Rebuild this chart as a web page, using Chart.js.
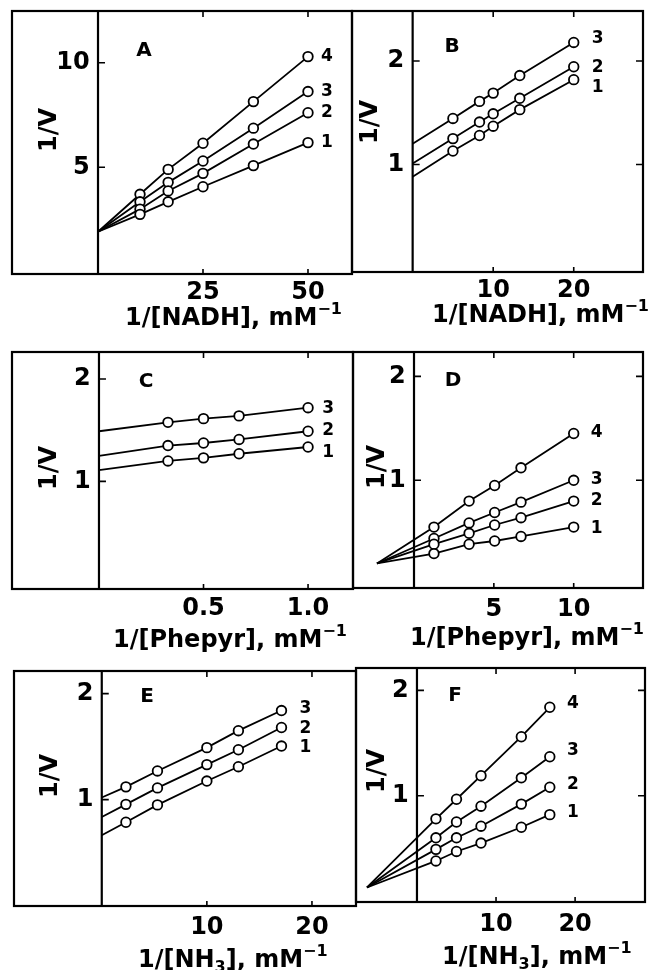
<!DOCTYPE html>
<html>
<head>
<meta charset="utf-8">
<script src="https://cdn.jsdelivr.net/npm/chart.js@4.4.0/dist/chart.umd.min.js"></script>
<style>
  body { margin: 0; background: #fff; width: 650px; height: 970px; position: relative; overflow: hidden; }
  canvas { position: absolute; }
</style>
</head>
<body>
<canvas id="cA"></canvas>
<canvas id="cB"></canvas>
<canvas id="cC"></canvas>
<canvas id="cD"></canvas>
<canvas id="cE"></canvas>
<canvas id="cF"></canvas>
<script>
// ---- data ----
// A: 1/[NADH]
var xA = [0, 10, 16.7, 25, 37, 50];
var yA1 = [1.92, 2.75, 3.35, 4.07, 5.08, 6.18];
var yA2 = [1.92, 3.0, 3.87, 4.71, 6.11, 7.61];
var yA3 = [1.92, 3.35, 4.28, 5.3, 6.87, 8.62];
var yA4 = [1.92, 3.71, 4.9, 6.15, 8.14, 10.29];
var xTicksA = [25, 50], xTickLabelsA = ['25', '50'];
var yTicksA = [5, 10], yTickLabelsA = ['5', '10'];

// B: 1/[NADH]
var xB = [0, 5, 8.3, 10, 13.3, 20];
var yB1 = [0.88, 1.13, 1.28, 1.37, 1.53, 1.82];
var yB2 = [1.01, 1.25, 1.41, 1.49, 1.64, 1.945];
var yB3 = [1.2, 1.445, 1.61, 1.69, 1.86, 2.18];
var xTicksB = [10, 20], xTickLabelsB = ['10', '20'];
var yTicksB = [1, 2], yTickLabelsB = ['1', '2'];

// C: 1/[Phepyr]
var xC = [0, 0.33, 0.5, 0.67, 1.0];
var yC1 = [1.11, 1.2, 1.23, 1.27, 1.336];
var yC2 = [1.25, 1.35, 1.375, 1.41, 1.49];
var yC3 = [1.49, 1.577, 1.613, 1.64, 1.72];
var xTicksC = [0.5, 1.0], xTickLabelsC = ['0.5', '1.0'];
var yTicksC = [1, 2], yTickLabelsC = ['1', '2'];

// D: 1/[Phepyr]
var xD = [-2.32, 1.25, 3.45, 5.05, 6.7, 10];
var yD1 = [0.2, 0.295, 0.385, 0.416, 0.46, 0.55];
var yD2 = [0.2, 0.385, 0.49, 0.57, 0.64, 0.8];
var yD3 = [0.2, 0.44, 0.59, 0.69, 0.79, 1.0];
var yD4 = [0.2, 0.55, 0.8, 0.95, 1.12, 1.45];
var xTicksD = [5, 10], xTickLabelsD = ['5', '10'];
var yTicksD = [1, 2], yTickLabelsD = ['1', '2'];

// E: 1/[NH3]
var xE = [0, 2.3, 5.3, 10, 13, 17.1];
var yE1 = [0.663, 0.786, 0.95, 1.175, 1.31, 1.505];
var yE2 = [0.835, 0.955, 1.11, 1.33, 1.47, 1.68];
var yE3 = [1.02, 1.12, 1.27, 1.49, 1.65, 1.84];
var xTicksE = [10, 20], xTickLabelsE = ['10', '20'];
var yTicksE = [1, 2], yTickLabelsE = ['1', '2'];

// F: 1/[NH3]
var xF = [-6.32, 2.4, 5, 8.1, 13.2, 16.8];
var yF1 = [0.128, 0.38, 0.47, 0.55, 0.7, 0.82];
var yF2 = [0.128, 0.49, 0.6, 0.71, 0.92, 1.08];
var yF3 = [0.128, 0.6, 0.75, 0.9, 1.17, 1.37];
var yF4 = [0.128, 0.78, 0.966, 1.19, 1.56, 1.84];
var xTicksF = [10, 20], xTickLabelsF = ['10', '20'];
var yTicksF = [1, 2], yTickLabelsF = ['1', '2'];

var seriesNames = ['1', '2', '3', '4'];

// ---- panel layout ----
var FONT = '"DejaVu Sans", "Liberation Sans", sans-serif';
var PAD = 8, AXIS_H = 75;

var panels = [
  { id: 'cA', letter: 'A', box: [12, 11, 352, 274], xr: [-20.48, 60.48], yr: [-0.1, 12.47],
    x: xA, ys: [yA1, yA2, yA3, yA4], xt: xTicksA, xl: xTickLabelsA, yt: yTicksA, yl: yTickLabelsA,
    title: [['1/[NADH], mM', 0], ['\u22121', -1]], titleX: 125, titleDy: 51, tickPad: 4,
    letterAt: [144, 51], vAt: [50, 130], rightTicks: false,
    lab: [[19, 0], [19, 0], [19, 0], [19, 0]] },
  { id: 'cB', letter: 'B', box: [352, 11, 643, 272], xr: [-7.53, 28.6], yr: [-0.04, 2.484],
    x: xB, ys: [yB1, yB2, yB3], xt: xTicksB, xl: xTickLabelsB, yt: yTicksB, yl: yTickLabelsB,
    title: [['1/[NADH], mM', 0], ['\u22121', -1]], titleX: 432, titleDy: 50, tickPad: 4,
    letterAt: [452, 47], vAt: [371, 122], rightTicks: true,
    lab: [[24, 8], [24, 1], [24, -4]] },
  { id: 'cC', letter: 'C', box: [12, 352, 353, 589], xr: [-0.416, 1.215], yr: [-0.051, 2.264],
    x: xC, ys: [yC1, yC2, yC3], xt: xTicksC, xl: xTickLabelsC, yt: yTicksC, yl: yTickLabelsC,
    title: [['1/[Phepyr], mM', 0], ['\u22121', -1]], titleX: 113, titleDy: 58, tickPad: 5,
    letterAt: [146, 382], vAt: [50, 468], rightTicks: false,
    lab: [[20, 6], [20, -1], [20, 1]] },
  { id: 'cD', letter: 'D', box: [353, 352, 643, 588], xr: [-3.82, 14.34], yr: [-0.036, 2.234],
    x: xD, ys: [yD1, yD2, yD3, yD4], xt: xTicksD, xl: xTickLabelsD, yt: yTicksD, yl: yTickLabelsD,
    title: [['1/[Phepyr], mM', 0], ['\u22121', -1]], titleX: 410, titleDy: 57, tickPad: 7,
    letterAt: [453, 381], vAt: [378, 467], rightTicks: true,
    lab: [[23, 2], [23, -1], [23, -1], [23, -1]] },
  { id: 'cE', letter: 'E', box: [14, 671, 356, 906], xr: [-8.35, 24.19], yr: [-0.004, 2.213],
    x: xE, ys: [yE1, yE2, yE3], xt: xTicksE, xl: xTickLabelsE, yt: yTicksE, yl: yTickLabelsE,
    title: [['1/[NH', 0], ['3', 1], ['], mM', 0], ['\u22121', -1]], titleX: 138, titleDy: 61, tickPad: 7,
    letterAt: [147, 697], vAt: [51, 776], rightTicks: false,
    lab: [[24, 2], [24, 1], [24, -2]] },
  { id: 'cF', letter: 'F', box: [356, 668, 645, 902], xr: [-7.71, 28.84], yr: [-0.01, 2.213],
    x: xF, ys: [yF1, yF2, yF3, yF4], xt: xTicksF, xl: xTickLabelsF, yt: yTicksF, yl: yTickLabelsF,
    title: [['1/[NH', 0], ['3', 1], ['], mM', 0], ['\u22121', -1]], titleX: 442, titleDy: 62, tickPad: 8,
    letterAt: [455, 696], vAt: [378, 771], rightTicks: true,
    lab: [[23, -2], [23, -3], [23, -6], [23, -4]] }
];

// frame, inner ticks, y axis line, annotations
var panelDecor = {
  id: 'panelDecor',
  afterDraw: function(chart) {
    var p = chart.options.plugins.panelDecor.panel;
    var ctx = chart.ctx, a = chart.chartArea;
    var xs = chart.scales.x, ys = chart.scales.y;
    var ox = p.box[0] - PAD, oy = p.box[1] - PAD;
    ctx.save();
    ctx.strokeStyle = '#000';
    ctx.lineWidth = 2.2;
    ctx.strokeRect(a.left, a.top, a.right - a.left, a.bottom - a.top);
    var x0 = xs.getPixelForValue(0);
    ctx.beginPath();
    ctx.moveTo(x0, a.top); ctx.lineTo(x0, a.bottom);
    ctx.stroke();

    ctx.lineWidth = 1.6;
    ctx.beginPath();
    xs.ticks.forEach(function(t) {
      var px = xs.getPixelForValue(t.value);
      ctx.moveTo(px, a.top); ctx.lineTo(px, a.top + 6);
      ctx.moveTo(px, a.bottom); ctx.lineTo(px, a.bottom - 5);
    });
    ys.ticks.forEach(function(t) {
      var py = ys.getPixelForValue(t.value);
      ctx.moveTo(x0, py); ctx.lineTo(x0 + 7, py);
      if (p.rightTicks) { ctx.moveTo(a.right, py); ctx.lineTo(a.right - 7, py); }
    });
    ctx.stroke();

    ctx.fillStyle = '#000';
    // series numbers
    ctx.font = 'bold 17px ' + FONT;
    ctx.textAlign = 'center';
    ctx.textBaseline = 'middle';
    chart.data.datasets.forEach(function(ds, i) {
      var pts = chart.getDatasetMeta(i).data;
      var last = pts[pts.length - 1];
      ctx.fillText(seriesNames[i], last.x + p.lab[i][0], last.y + p.lab[i][1]);
    });
    // panel letter
    ctx.font = 'bold 20px ' + FONT;
    ctx.fillText(p.letter, p.letterAt[0] - ox, p.letterAt[1] - oy);
    // 1/V
    ctx.save();
    ctx.translate(p.vAt[0] - ox, p.vAt[1] - oy);
    ctx.rotate(-Math.PI / 2);
    ctx.font = 'bold 24px ' + FONT;
    ctx.fillText('1/V', 0, 0);
    ctx.restore();
    // x title with sub/superscripts
    ctx.textAlign = 'left';
    ctx.textBaseline = 'alphabetic';
    var tx = p.titleX - ox, ty = a.bottom + p.titleDy;
    p.title.forEach(function(part) {
      var shift = 0;
      if (part[1] === 0) ctx.font = 'bold 24px ' + FONT;
      else { ctx.font = 'bold 16px ' + FONT; shift = part[1] < 0 ? -11 : 5; }
      ctx.fillText(part[0], tx, ty + shift);
      tx += ctx.measureText(part[0]).width;
    });
    ctx.restore();
  }
};

panels.forEach(function(p) {
  var cv = document.getElementById(p.id);
  var w = p.box[2] - p.box[0] + 2 * PAD;
  var h = p.box[3] - p.box[1] + PAD + AXIS_H;
  cv.width = w; cv.height = h;
  cv.style.left = (p.box[0] - PAD) + 'px';
  cv.style.top = (p.box[1] - PAD) + 'px';

  var datasets = p.ys.map(function(yv) {
    return {
      data: p.x.map(function(xv, i) { return { x: xv, y: yv[i] }; }),
      showLine: true,
      borderColor: '#000',
      borderWidth: 1.8,
      backgroundColor: '#fff',
      pointBackgroundColor: '#fff',
      pointBorderColor: '#000',
      pointBorderWidth: 1.8,
      pointRadius: function(c) { return c.dataIndex === 0 ? 0 : 4.8; },
      tension: 0
    };
  });

  new Chart(cv, {
    type: 'scatter',
    data: { datasets: datasets },
    plugins: [panelDecor],
    options: {
      responsive: false,
      animation: false,
      events: [],
      layout: { padding: { left: PAD, right: PAD, top: PAD, bottom: 0 } },
      plugins: {
        legend: { display: false },
        tooltip: { enabled: false },
        panelDecor: { panel: p }
      },
      scales: {
        x: {
          type: 'linear', position: 'bottom', min: p.xr[0], max: p.xr[1],
          grid: { display: false, drawTicks: false },
          border: { display: false },
          ticks: {
            color: '#000', padding: p.tickPad,
            font: { family: FONT, size: 24, weight: 'bold' },
            callback: function(v) { var k = p.xt.indexOf(v); return k >= 0 ? p.xl[k] : ''; }
          },
          afterBuildTicks: function(s) { s.ticks = p.xt.map(function(v) { return { value: v }; }); },
          afterFit: function(s) { s.height = AXIS_H; s.paddingLeft = 0; s.paddingRight = 0; }
        },
        y: {
          type: 'linear', position: { x: 0 }, min: p.yr[0], max: p.yr[1],
          grid: { display: false, drawTicks: false },
          border: { display: false },
          ticks: {
            color: '#000', padding: 8,
            font: { family: FONT, size: 24, weight: 'bold' },
            // trailing space keeps the label clear of the axis line
            callback: function(v) { var k = p.yt.indexOf(v); return k >= 0 ? p.yl[k] + ' ' : ''; }
          },
          afterBuildTicks: function(s) { s.ticks = p.yt.map(function(v) { return { value: v }; }); },
          afterFit: function(s) { s.paddingTop = 0; s.paddingBottom = 0; }
        }
      }
    }
  });
});
</script>
</body>
</html>
